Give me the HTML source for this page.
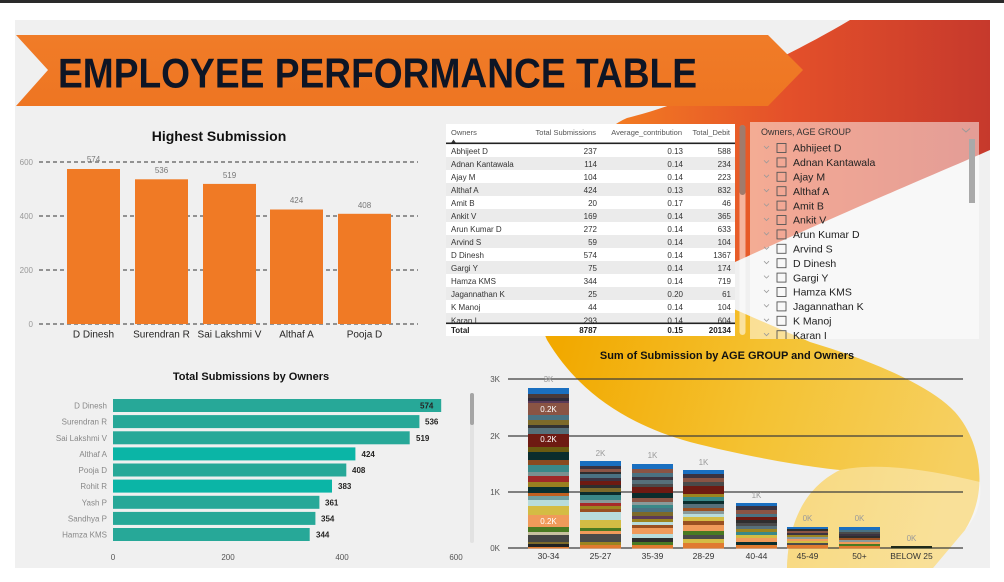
<!DOCTYPE html>
<html><head><meta charset="utf-8"><style>
html,body{margin:0;padding:0;background:#fff;width:1004px;height:582px;overflow:hidden}
svg{display:block}
</style></head><body>
<svg width="1004" height="582" viewBox="0 0 1004 582" xmlns="http://www.w3.org/2000/svg" font-family="'Liberation Sans', Arial, sans-serif">
<defs>
<clipPath id="cv"><rect x="15" y="20" width="975" height="548"/></clipPath>
<clipPath id="sl"><rect x="750" y="122" width="229" height="217"/></clipPath>
<clipPath id="tb"><rect x="446" y="144" width="289" height="179"/></clipPath>
<linearGradient id="rg" gradientUnits="userSpaceOnUse" x1="620" y1="0" x2="990" y2="0">
<stop offset="0" stop-color="#f27a22"/><stop offset="0.45" stop-color="#e4502a"/><stop offset="1" stop-color="#c6392c"/>
</linearGradient>
<linearGradient id="yg" gradientUnits="userSpaceOnUse" x1="560" y1="350" x2="960" y2="460">
<stop offset="0" stop-color="#f2a900"/><stop offset="0.5" stop-color="#f4c232"/><stop offset="1" stop-color="#f6d062"/>
</linearGradient>
<linearGradient id="bg" x1="0" y1="0" x2="0" y2="1">
<stop offset="0" stop-color="#f07c28"/><stop offset="1" stop-color="#ee7522"/>
</linearGradient>
</defs>

<rect x="0" y="0" width="1004" height="3" fill="#2a2a2a"/>
<rect x="15" y="20" width="975" height="548" fill="#f0f0f0"/>

<g clip-path="url(#cv)">
<path d="M850,20 L990,20 L990,150 C940,172 860,205 735,262 L600,300 L560,200 C575,160 600,130 627,118 C700,100 800,50 850,20 Z" fill="url(#rg)"/>
<path d="M530,300 L680,285 C720,303 770,325 810,342 C870,360 930,385 955,412 C980,440 990,490 965,530 L933,568 L787,568 C788,530 800,490 840,470 C800,466 740,455 690,442 C630,425 580,395 547,340 L530,300 Z" fill="url(#yg)"/>
<path d="M787,568 C788,530 800,490 840,470 C880,462 930,470 980,482 C982,500 978,515 965,530 L933,568 Z" fill="#ffffff" opacity="0.35"/>
</g>

<!-- Banner -->
<polygon points="16,35 768,35 803,70 768,106 16,106 48,70" fill="url(#bg)"/>
<text x="58" y="87.5" font-size="42" font-weight="bold" fill="#0e1525" textLength="639" lengthAdjust="spacingAndGlyphs">EMPLOYEE PERFORMANCE TABLE</text>

<!-- Highest Submission -->
<text x="219" y="141" font-size="14" font-weight="bold" fill="#111" text-anchor="middle">Highest Submission</text>
<g stroke="#333" stroke-width="1" stroke-dasharray="4,3">
<line x1="39" y1="162" x2="418" y2="162"/><line x1="39" y1="216" x2="418" y2="216"/>
<line x1="39" y1="270" x2="418" y2="270"/><line x1="39" y1="324" x2="418" y2="324"/>
</g>
<g font-size="8" fill="#999" text-anchor="end">
<text x="33" y="165">600</text><text x="33" y="219">400</text><text x="33" y="273">200</text><text x="33" y="327">0</text>
</g>
<g fill="#f07a25">
<rect x="67" y="169" width="53" height="155"/>
<rect x="135" y="179.3" width="53" height="144.7"/>
<rect x="203" y="183.9" width="53" height="140.1"/>
<rect x="270" y="209.5" width="53" height="114.5"/>
<rect x="338" y="213.8" width="53" height="110.2"/>
</g>
<g font-size="8" fill="#777" text-anchor="middle">
<text x="93.5" y="162">574</text><text x="161.5" y="173">536</text><text x="229.5" y="178">519</text>
<text x="296.5" y="203">424</text><text x="364.5" y="208">408</text>
</g>
<g font-size="10" fill="#252423" text-anchor="middle">
<text x="93.5" y="337.5">D Dinesh</text><text x="161.5" y="337.5">Surendran R</text><text x="229.5" y="337.5">Sai Lakshmi V</text>
<text x="296.5" y="337.5">Althaf A</text><text x="364.5" y="337.5">Pooja D</text>
</g>

<!-- Table -->
<rect x="446" y="124" width="289" height="212" fill="#ffffff"/>
<g fill="#ebebeb">
<rect x="446" y="157" width="289" height="13"/><rect x="446" y="183" width="289" height="13"/>
<rect x="446" y="209" width="289" height="13"/><rect x="446" y="235" width="289" height="13"/>
<rect x="446" y="261" width="289" height="13"/><rect x="446" y="287" width="289" height="13"/>
<rect x="446" y="313" width="289" height="10"/>
</g>
<g font-size="7.5" fill="#555">
<text x="451" y="135">Owners</text>
<text x="596" y="135" text-anchor="end">Total Submissions</text>
<text x="682" y="135" text-anchor="end">Average_contribution</text>
<text x="730" y="135" text-anchor="end">Total_Debit</text>
</g>
<polygon points="451,143 453.5,139.5 456,143" fill="#333"/>
<rect x="446" y="142.5" width="289" height="1.6" fill="#222"/>
<g clip-path="url(#tb)" font-size="8" fill="#333">
<g><text x="451" y="154">Abhijeet D</text><text x="597" y="154" text-anchor="end">237</text><text x="683" y="154" text-anchor="end">0.13</text><text x="731" y="154" text-anchor="end">588</text></g>
<g><text x="451" y="167">Adnan Kantawala</text><text x="597" y="167" text-anchor="end">114</text><text x="683" y="167" text-anchor="end">0.14</text><text x="731" y="167" text-anchor="end">234</text></g>
<g><text x="451" y="180">Ajay M</text><text x="597" y="180" text-anchor="end">104</text><text x="683" y="180" text-anchor="end">0.14</text><text x="731" y="180" text-anchor="end">223</text></g>
<g><text x="451" y="193">Althaf A</text><text x="597" y="193" text-anchor="end">424</text><text x="683" y="193" text-anchor="end">0.13</text><text x="731" y="193" text-anchor="end">832</text></g>
<g><text x="451" y="206">Amit B</text><text x="597" y="206" text-anchor="end">20</text><text x="683" y="206" text-anchor="end">0.17</text><text x="731" y="206" text-anchor="end">46</text></g>
<g><text x="451" y="219">Ankit V</text><text x="597" y="219" text-anchor="end">169</text><text x="683" y="219" text-anchor="end">0.14</text><text x="731" y="219" text-anchor="end">365</text></g>
<g><text x="451" y="232">Arun Kumar D</text><text x="597" y="232" text-anchor="end">272</text><text x="683" y="232" text-anchor="end">0.14</text><text x="731" y="232" text-anchor="end">633</text></g>
<g><text x="451" y="245">Arvind S</text><text x="597" y="245" text-anchor="end">59</text><text x="683" y="245" text-anchor="end">0.14</text><text x="731" y="245" text-anchor="end">104</text></g>
<g><text x="451" y="258">D Dinesh</text><text x="597" y="258" text-anchor="end">574</text><text x="683" y="258" text-anchor="end">0.14</text><text x="731" y="258" text-anchor="end">1367</text></g>
<g><text x="451" y="271">Gargi Y</text><text x="597" y="271" text-anchor="end">75</text><text x="683" y="271" text-anchor="end">0.14</text><text x="731" y="271" text-anchor="end">174</text></g>
<g><text x="451" y="284">Hamza KMS</text><text x="597" y="284" text-anchor="end">344</text><text x="683" y="284" text-anchor="end">0.14</text><text x="731" y="284" text-anchor="end">719</text></g>
<g><text x="451" y="297">Jagannathan K</text><text x="597" y="297" text-anchor="end">25</text><text x="683" y="297" text-anchor="end">0.20</text><text x="731" y="297" text-anchor="end">61</text></g>
<g><text x="451" y="310">K Manoj</text><text x="597" y="310" text-anchor="end">44</text><text x="683" y="310" text-anchor="end">0.14</text><text x="731" y="310" text-anchor="end">104</text></g>
<g><text x="451" y="323.5">Karan I</text><text x="597" y="323.5" text-anchor="end">293</text><text x="683" y="323.5" text-anchor="end">0.14</text><text x="731" y="323.5" text-anchor="end">604</text></g>
</g>
<rect x="446" y="322.5" width="289" height="1.6" fill="#222"/>
<g font-size="8" font-weight="bold" fill="#222">
<text x="451" y="333">Total</text><text x="597" y="333" text-anchor="end">8787</text>
<text x="683" y="333" text-anchor="end">0.15</text><text x="731" y="333" text-anchor="end">20134</text>
</g>
<rect x="739.5" y="125" width="6" height="210" rx="3" fill="#ffffff" opacity="0.55"/>
<rect x="739.5" y="125" width="6" height="70" rx="3" fill="#5a4a44" opacity="0.55"/>

<!-- Slicer -->
<rect x="750" y="122" width="229" height="217" fill="#ffffff" opacity="0.5"/>
<text x="761" y="135" font-size="9" fill="#333">Owners, AGE GROUP</text>
<polyline points="962,128.5 966,132 970,128.5" fill="none" stroke="#999" stroke-width="0.9"/>
<rect x="969" y="139" width="6" height="64" fill="#a9a9a9"/>
<g clip-path="url(#sl)">
<g fill="none" stroke="#999" stroke-width="0.8">
<polyline points="764,146 766.5,148.5 769,146"/><polyline points="764,160.4 766.5,162.9 769,160.4"/>
<polyline points="764,174.8 766.5,177.3 769,174.8"/><polyline points="764,189.2 766.5,191.7 769,189.2"/>
<polyline points="764,203.6 766.5,206.1 769,203.6"/><polyline points="764,218 766.5,220.5 769,218"/>
<polyline points="764,232.4 766.5,234.9 769,232.4"/><polyline points="764,246.8 766.5,249.3 769,246.8"/>
<polyline points="764,261.2 766.5,263.7 769,261.2"/><polyline points="764,275.6 766.5,278.1 769,275.6"/>
<polyline points="764,290 766.5,292.5 769,290"/><polyline points="764,304.4 766.5,306.9 769,304.4"/>
<polyline points="764,318.8 766.5,321.3 769,318.8"/><polyline points="764,333.2 766.5,335.7 769,333.2"/>
</g>
<g fill="none" stroke="#555" stroke-width="0.9">
<rect x="777" y="143.5" width="9" height="9"/><rect x="777" y="157.9" width="9" height="9"/>
<rect x="777" y="172.3" width="9" height="9"/><rect x="777" y="186.7" width="9" height="9"/>
<rect x="777" y="201.1" width="9" height="9"/><rect x="777" y="215.5" width="9" height="9"/>
<rect x="777" y="229.9" width="9" height="9"/><rect x="777" y="244.3" width="9" height="9"/>
<rect x="777" y="258.7" width="9" height="9"/><rect x="777" y="273.1" width="9" height="9"/>
<rect x="777" y="287.5" width="9" height="9"/><rect x="777" y="301.9" width="9" height="9"/>
<rect x="777" y="316.3" width="9" height="9"/><rect x="777" y="330.7" width="9" height="9"/>
</g>
<g font-size="10.5" fill="#222">
<text x="793" y="151.7">Abhijeet D</text><text x="793" y="166.1">Adnan Kantawala</text>
<text x="793" y="180.5">Ajay M</text><text x="793" y="194.9">Althaf A</text>
<text x="793" y="209.3">Amit B</text><text x="793" y="223.7">Ankit V</text>
<text x="793" y="238.1">Arun Kumar D</text><text x="793" y="252.5">Arvind S</text>
<text x="793" y="266.9">D Dinesh</text><text x="793" y="281.3">Gargi Y</text>
<text x="793" y="295.7">Hamza KMS</text><text x="793" y="310.1">Jagannathan K</text>
<text x="793" y="324.5">K Manoj</text><text x="793" y="338.9">Karan I</text>
</g>
</g>

<!-- Total Submissions by Owners -->
<text x="251" y="380" font-size="11" font-weight="bold" fill="#111" text-anchor="middle">Total Submissions by Owners</text>
<g fill="#27a898">
<rect x="113" y="399" width="328.2" height="13"/>
<rect x="113" y="415.1" width="306.4" height="13"/>
<rect x="113" y="431.3" width="296.7" height="13"/>
<rect x="113" y="447.4" width="242.4" height="13" fill="#0bb5a6"/>
<rect x="113" y="463.5" width="233.3" height="13"/>
<rect x="113" y="479.6" width="219" height="13" fill="#0bb5a6"/>
<rect x="113" y="495.8" width="206.4" height="13"/>
<rect x="113" y="511.9" width="202.4" height="13"/>
<rect x="113" y="528" width="196.7" height="13"/>
</g>
<g font-size="8" fill="#888" text-anchor="end">
<text x="107" y="408.5">D Dinesh</text><text x="107" y="424.6">Surendran R</text><text x="107" y="440.8">Sai Lakshmi V</text>
<text x="107" y="456.9">Althaf A</text><text x="107" y="473">Pooja D</text><text x="107" y="489.1">Rohit R</text>
<text x="107" y="505.3">Yash P</text><text x="107" y="521.4">Sandhya P</text><text x="107" y="537.5">Hamza KMS</text>
</g>
<g font-size="8" font-weight="bold" fill="#252423">
<text x="420" y="408.5">574</text><text x="425" y="424.6">536</text><text x="416" y="440.8">519</text>
<text x="361.5" y="456.9">424</text><text x="352" y="473">408</text><text x="338" y="489.1">383</text>
<text x="325" y="505.3">361</text><text x="321" y="521.4">354</text><text x="316" y="537.5">344</text>
</g>
<g font-size="8" fill="#555" text-anchor="middle">
<text x="113" y="560">0</text><text x="228" y="560">200</text><text x="342" y="560">400</text><text x="456" y="560">600</text>
</g>
<rect x="470" y="393" width="4" height="150" rx="2" fill="#e2e2e2"/>
<rect x="470" y="393" width="4" height="32" rx="2" fill="#a5a5a5"/>

<!-- Sum of Submission by AGE GROUP -->
<text x="727" y="359" font-size="11" font-weight="bold" fill="#111" text-anchor="middle">Sum of Submission by AGE GROUP and Owners</text>
<g stroke="#3c3c3c" stroke-width="1.3">
<line x1="508" y1="379" x2="963" y2="379"/><line x1="508" y1="436" x2="963" y2="436"/>
<line x1="508" y1="492" x2="963" y2="492"/><line x1="508" y1="548" x2="963" y2="548"/>
</g>
<g font-size="8" fill="#555" text-anchor="end">
<text x="500" y="382">3K</text><text x="500" y="439">2K</text><text x="500" y="495">1K</text><text x="500" y="551">0K</text>
</g>
<!-- bar 30-34 -->
<g>
<rect x="528" y="388" width="41" height="6" fill="#1a6fc0"/>
<rect x="528" y="394" width="41" height="4" fill="#4a3a3a"/>
<rect x="528" y="398" width="41" height="3" fill="#2e2a3a"/>
<rect x="528" y="401" width="41" height="2" fill="#5a3a58"/>
<rect x="528" y="403" width="41" height="12" fill="#8a5444"/>
<rect x="528" y="415" width="41" height="5" fill="#4a7282"/>
<rect x="528" y="420" width="41" height="5" fill="#7d6a2a"/>
<rect x="528" y="425" width="41" height="3" fill="#333333"/>
<rect x="528" y="428" width="41" height="6" fill="#56707a"/>
<rect x="528" y="434" width="41" height="13" fill="#6e1a12"/>
<rect x="528" y="447" width="41" height="5" fill="#6a5a10"/>
<rect x="528" y="452" width="41" height="8" fill="#0b2d2d"/>
<rect x="528" y="460" width="41" height="5" fill="#8a4a20"/>
<rect x="528" y="465" width="41" height="7" fill="#3a8888"/>
<rect x="528" y="472" width="41" height="4" fill="#7a9090"/>
<rect x="528" y="476" width="41" height="6" fill="#a02828"/>
<rect x="528" y="482" width="41" height="5" fill="#9a8020"/>
<rect x="528" y="487" width="41" height="6" fill="#0a3030"/>
<rect x="528" y="493" width="41" height="3" fill="#c06020"/>
<rect x="528" y="496" width="41" height="4" fill="#70a0a0"/>
<rect x="528" y="500" width="41" height="6" fill="#b8dcdc"/>
<rect x="528" y="506" width="41" height="9" fill="#d4bc44"/>
<rect x="528" y="515" width="41" height="12" fill="#f09a5a"/>
<rect x="528" y="527" width="41" height="5" fill="#4a7a22"/>
<rect x="528" y="532" width="41" height="3" fill="#c8c0a0"/>
<rect x="528" y="535" width="41" height="7" fill="#444444"/>
<rect x="528" y="542" width="41" height="2" fill="#7d6a2a"/>
<rect x="528" y="544" width="41" height="3" fill="#222222"/>
<rect x="528" y="547" width="41" height="1.5" fill="#e07a30"/>
</g>
<!-- bar 25-27 -->
<g>
<rect x="580" y="461" width="41" height="5" fill="#1a6fc0"/>
<rect x="580" y="466" width="41" height="3" fill="#3b3340"/>
<rect x="580" y="469" width="41" height="3" fill="#8a5444"/>
<rect x="580" y="472" width="41" height="2" fill="#2e2e2e"/>
<rect x="580" y="474" width="41" height="4" fill="#4a7282"/>
<rect x="580" y="478" width="41" height="3" fill="#3b3340"/>
<rect x="580" y="481" width="41" height="4" fill="#6e1a12"/>
<rect x="580" y="485" width="41" height="3" fill="#2e2e2e"/>
<rect x="580" y="488" width="41" height="4" fill="#7d6a2a"/>
<rect x="580" y="492" width="41" height="3" fill="#0b2d2d"/>
<rect x="580" y="495" width="41" height="5" fill="#3a8888"/>
<rect x="580" y="500" width="41" height="3" fill="#8a9a9a"/>
<rect x="580" y="503" width="41" height="3" fill="#a82a2a"/>
<rect x="580" y="506" width="41" height="3" fill="#9c8420"/>
<rect x="580" y="509" width="41" height="3" fill="#9a5022"/>
<rect x="580" y="512" width="41" height="8" fill="#b8dcdc"/>
<rect x="580" y="520" width="41" height="8" fill="#d4bc44"/>
<rect x="580" y="528" width="41" height="3" fill="#4a7a22"/>
<rect x="580" y="531" width="41" height="3" fill="#f09a5a"/>
<rect x="580" y="534" width="41" height="8" fill="#4a4a4a"/>
<rect x="580" y="542" width="41" height="3" fill="#9c8420"/>
<rect x="580" y="545" width="41" height="3.5" fill="#e07a30"/>
</g>
<!-- bar 35-39 -->
<g>
<rect x="632" y="464" width="41" height="5" fill="#1a6fc0"/>
<rect x="632" y="469" width="41" height="4" fill="#8a5444"/>
<rect x="632" y="473" width="41" height="4" fill="#4a7282"/>
<rect x="632" y="477" width="41" height="3" fill="#3b3340"/>
<rect x="632" y="480" width="41" height="4" fill="#56707a"/>
<rect x="632" y="484" width="41" height="3" fill="#4a4a4a"/>
<rect x="632" y="487" width="41" height="6" fill="#6e1a12"/>
<rect x="632" y="493" width="41" height="5" fill="#0b2d2d"/>
<rect x="632" y="498" width="41" height="4" fill="#8a5444"/>
<rect x="632" y="502" width="41" height="3" fill="#8a9a9a"/>
<rect x="632" y="505" width="41" height="3" fill="#3a8888"/>
<rect x="632" y="508" width="41" height="4" fill="#4a7282"/>
<rect x="632" y="512" width="41" height="4" fill="#7d6a2a"/>
<rect x="632" y="516" width="41" height="3" fill="#5a3a58"/>
<rect x="632" y="519" width="41" height="3" fill="#9c8420"/>
<rect x="632" y="522" width="41" height="3" fill="#b8dcdc"/>
<rect x="632" y="525" width="41" height="3" fill="#9a5022"/>
<rect x="632" y="528" width="41" height="6" fill="#f09a5a"/>
<rect x="632" y="534" width="41" height="4" fill="#b8dcdc"/>
<rect x="632" y="538" width="41" height="4" fill="#2e2e2e"/>
<rect x="632" y="542" width="41" height="3" fill="#4a7a22"/>
<rect x="632" y="545" width="41" height="3.5" fill="#e07a30"/>
</g>
<!-- bar 28-29 -->
<g>
<rect x="683" y="470" width="41" height="4" fill="#1a6fc0"/>
<rect x="683" y="474" width="41" height="4" fill="#3b3340"/>
<rect x="683" y="478" width="41" height="4" fill="#8a5444"/>
<rect x="683" y="482" width="41" height="4" fill="#4a4a4a"/>
<rect x="683" y="486" width="41" height="8" fill="#6e1a12"/>
<rect x="683" y="494" width="41" height="3" fill="#9c8420"/>
<rect x="683" y="497" width="41" height="4" fill="#3a8888"/>
<rect x="683" y="501" width="41" height="3" fill="#0b2d2d"/>
<rect x="683" y="504" width="41" height="4" fill="#56707a"/>
<rect x="683" y="508" width="41" height="3" fill="#9a5022"/>
<rect x="683" y="511" width="41" height="3" fill="#8a9a9a"/>
<rect x="683" y="514" width="41" height="3" fill="#b8dcdc"/>
<rect x="683" y="517" width="41" height="4" fill="#d4bc44"/>
<rect x="683" y="521" width="41" height="4" fill="#9a5022"/>
<rect x="683" y="525" width="41" height="6" fill="#f09a5a"/>
<rect x="683" y="531" width="41" height="4" fill="#4a7a22"/>
<rect x="683" y="535" width="41" height="4" fill="#4a4a4a"/>
<rect x="683" y="539" width="41" height="4" fill="#d4bc44"/>
<rect x="683" y="543" width="41" height="5.5" fill="#e07a30"/>
</g>
<!-- bar 40-44 -->
<g>
<rect x="736" y="503" width="41" height="3" fill="#1a6fc0"/>
<rect x="736" y="506" width="41" height="4" fill="#3b3340"/>
<rect x="736" y="510" width="41" height="4" fill="#8a5444"/>
<rect x="736" y="514" width="41" height="3" fill="#4a7282"/>
<rect x="736" y="517" width="41" height="3" fill="#6e1a12"/>
<rect x="736" y="520" width="41" height="3" fill="#2e2e2e"/>
<rect x="736" y="523" width="41" height="3" fill="#4a4a4a"/>
<rect x="736" y="526" width="41" height="3" fill="#56707a"/>
<rect x="736" y="529" width="41" height="3" fill="#9c8420"/>
<rect x="736" y="532" width="41" height="3" fill="#3a8888"/>
<rect x="736" y="535" width="41" height="3" fill="#d4bc44"/>
<rect x="736" y="538" width="41" height="4" fill="#f09a5a"/>
<rect x="736" y="542" width="41" height="3" fill="#0b2d2d"/>
<rect x="736" y="545" width="41" height="3.5" fill="#e07a30"/>
</g>
<!-- bar 45-49 -->
<g>
<rect x="787" y="527" width="41" height="2" fill="#1a6fc0"/>
<rect x="787" y="529" width="41" height="2" fill="#2e2e2e"/>
<rect x="787" y="531" width="41" height="2" fill="#8a5444"/>
<rect x="787" y="533" width="41" height="2" fill="#3b3340"/>
<rect x="787" y="535" width="41" height="2" fill="#9c8420"/>
<rect x="787" y="537" width="41" height="2" fill="#8a9a9a"/>
<rect x="787" y="539" width="41" height="2" fill="#f09a5a"/>
<rect x="787" y="541" width="41" height="2" fill="#d4bc44"/>
<rect x="787" y="543" width="41" height="2" fill="#4a4a4a"/>
<rect x="787" y="545" width="41" height="3.5" fill="#e07a30"/>
</g>
<!-- bar 50+ -->
<g>
<rect x="839" y="527" width="41" height="3" fill="#1a6fc0"/>
<rect x="839" y="530" width="41" height="2" fill="#4a7282"/>
<rect x="839" y="532" width="41" height="2" fill="#4a4a4a"/>
<rect x="839" y="534" width="41" height="2" fill="#3b3340"/>
<rect x="839" y="536" width="41" height="2" fill="#2e2e2e"/>
<rect x="839" y="538" width="41" height="2" fill="#9a5022"/>
<rect x="839" y="540" width="41" height="2" fill="#8a9a9a"/>
<rect x="839" y="542" width="41" height="2" fill="#f09a5a"/>
<rect x="839" y="544" width="41" height="2" fill="#4a7a22"/>
<rect x="839" y="546" width="41" height="2.5" fill="#e07a30"/>
</g>
<rect x="891" y="546" width="41" height="2.5" fill="#1f2a1a"/>
<g font-size="8" fill="#ffffff" text-anchor="middle">
<text x="548.5" y="412">0.2K</text><text x="548.5" y="442">0.2K</text><text x="548.5" y="524">0.2K</text>
</g>
<g font-size="8" fill="#9a9a9a" text-anchor="middle">
<text x="548.5" y="382">3K</text><text x="600.5" y="456">2K</text><text x="652.5" y="458">1K</text>
<text x="703.5" y="465">1K</text><text x="756.5" y="498">1K</text><text x="807.5" y="521">0K</text>
<text x="859.5" y="521">0K</text><text x="911.5" y="541">0K</text>
</g>
<g font-size="8.5" fill="#333" text-anchor="middle">
<text x="548.5" y="559">30-34</text><text x="600.5" y="559">25-27</text><text x="652.5" y="559">35-39</text>
<text x="703.5" y="559">28-29</text><text x="756.5" y="559">40-44</text><text x="807.5" y="559">45-49</text>
<text x="859.5" y="559">50+</text><text x="911.5" y="559">BELOW 25</text>
</g>
</svg>
</body></html>
